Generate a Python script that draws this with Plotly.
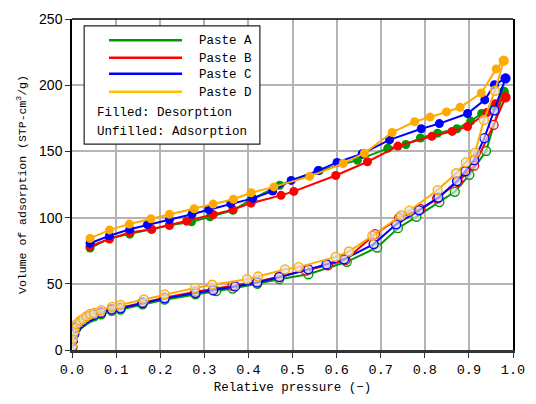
import plotly.graph_objects as go

# ---- Isotherm data: relative pressure (-) vs. adsorbed volume (STP-cm3/g) ----
pastes = ["Paste A", "Paste B", "Paste C", "Paste D"]
colors = ["#009a00", "#ff0000", "#0000ff", "#ffaa00"]
legend_colors = ["#009a00", "#ff0000", "#0000ff", "#ffc000"]

# Adsorption branches (unfilled markers)
ads_a_x = [0.0005, 0.002, 0.005, 0.01, 0.018, 0.025, 0.033, 0.041, 0.05, 0.066, 0.09, 0.11,
           0.16, 0.21, 0.28, 0.327, 0.364, 0.42, 0.47, 0.536, 0.623, 0.692, 0.739, 0.781,
           0.833, 0.868, 0.901, 0.939, 0.979]
ads_a_y = [2, 7, 12, 16.5, 19.5, 21, 23, 24.5, 25.5, 27, 29.5, 30.5,
           34.5, 38, 42, 44.5, 46.4, 50, 53.5, 57.2, 66.6, 77.4, 92, 100.6,
           111.7, 119.5, 132.3, 150.3, 195.1]

ads_b_x = [0.0005, 0.002, 0.005, 0.01, 0.018, 0.025, 0.033, 0.041, 0.05, 0.066, 0.09, 0.11,
           0.16, 0.21, 0.28, 0.32, 0.364, 0.42, 0.47, 0.53, 0.58, 0.62, 0.687, 0.742,
           0.79, 0.828, 0.875, 0.912, 0.956, 0.983]
ads_b_y = [2.5, 7.5, 13, 18, 21, 22.5, 24.5, 26, 27, 28.5, 31, 32,
           36, 39.5, 44, 46, 48.5, 51.5, 55.5, 60, 64, 68, 87.5, 99.8,
           106.5, 114.6, 126.9, 139.2, 170, 190.9]

ads_c_x = [0.0005, 0.002, 0.005, 0.01, 0.018, 0.025, 0.033, 0.041, 0.05, 0.066, 0.09, 0.11,
           0.16, 0.21, 0.28, 0.32, 0.37, 0.42, 0.47, 0.536, 0.577, 0.617, 0.684, 0.735,
           0.787, 0.831, 0.873, 0.892, 0.912, 0.935, 0.958, 0.983]
ads_c_y = [2, 7, 12, 17, 20, 22, 24, 25.5, 26.5, 28, 30.5, 31.5,
           35.5, 39, 43, 45, 48, 51, 55, 60.9, 64.6, 68.5, 80, 94.9,
           105.5, 115.1, 127.6, 135, 143.4, 160, 181, 205.2]

ads_d_x = [0.0005, 0.002, 0.005, 0.01, 0.018, 0.025, 0.033, 0.041, 0.05, 0.066, 0.091, 0.11,
           0.163, 0.21, 0.279, 0.318, 0.397, 0.422, 0.483, 0.514, 0.598, 0.628, 0.681,
           0.746, 0.765, 0.829, 0.871, 0.893, 0.914, 0.934, 0.959, 0.979]
ads_d_y = [3, 8.5, 14, 19.5, 22, 23.5, 25.5, 27.2, 28, 30.1, 32.6, 34.1,
           38.3, 42, 46.9, 49.3, 53.5, 55.5, 60.9, 62.6, 70.3, 74.4, 86.3,
           101.6, 105.2, 120.8, 133.5, 141.7, 149, 173.7, 195.8, 218.5]

# Desorption branches (filled markers), from saturation downwards
des_a_x = [0.979, 0.958, 0.929, 0.904, 0.873, 0.829, 0.790, 0.757, 0.716, 0.647, 0.561,
           0.471, 0.405, 0.365, 0.313, 0.271, 0.221, 0.180, 0.131, 0.085, 0.041]
des_a_y = [195.1, 184.3, 178.6, 172.9, 167.1, 163.8, 160.1, 155.2, 152.3, 143.4, 135.5,
           124.4, 113.4, 105.5, 100.6, 96.9, 94.2, 91.2, 87.5, 84.3, 77.0]

des_b_x = [0.983, 0.960, 0.941, 0.897, 0.862, 0.816, 0.739, 0.670, 0.598, 0.503, 0.474,
           0.406, 0.365, 0.320, 0.260, 0.221, 0.181, 0.131, 0.085, 0.041]
des_b_y = [190.9, 186.0, 179.3, 168.8, 165.1, 161.4, 154.0, 142.2, 131.8, 119.8, 116.8,
           110.9, 106.0, 102.3, 97.3, 94.2, 91.2, 88.8, 83.8, 78.4]

des_c_x = [0.983, 0.958, 0.936, 0.897, 0.833, 0.792, 0.720, 0.658, 0.601, 0.558, 0.497,
           0.455, 0.410, 0.360, 0.310, 0.272, 0.221, 0.171, 0.131, 0.085, 0.041]
des_c_y = [205.2, 200.3, 188.9, 178.6, 171.0, 167.1, 158.7, 148.3, 141.7, 135.5, 128.1,
           120.0, 114.5, 110.4, 106.0, 102.5, 98.4, 94.7, 91.2, 86.3, 80.6]

des_d_x = [0.979, 0.962, 0.928, 0.880, 0.849, 0.812, 0.777, 0.726, 0.663, 0.615, 0.539,
           0.458, 0.406, 0.366, 0.320, 0.277, 0.221, 0.179, 0.130, 0.085, 0.041]
des_d_y = [218.5, 212.3, 194.1, 183.3, 179.8, 175.9, 172.4, 164.3, 148.6, 140.9, 131.1,
           123.2, 118.8, 113.9, 110.2, 106.7, 102.5, 99.1, 95.1, 90.7, 84.3]

ads = [(ads_a_x, ads_a_y), (ads_b_x, ads_b_y), (ads_c_x, ads_c_y), (ads_d_x, ads_d_y)]
des = [(des_a_x, des_a_y), (des_b_x, des_b_y), (des_c_x, des_c_y), (des_d_x, des_d_y)]

legend_notes = ["Filled: Desorption", "Unfilled: Adsorption"]

x_ticks = [0.0, 0.1, 0.2, 0.3, 0.4, 0.5, 0.6, 0.7, 0.8, 0.9, 1.0]
y_ticks = [0, 50, 100, 150, 200, 250]

MONO = "Liberation Mono, DejaVu Sans Mono, monospace"

fig = go.Figure()

for name, col, (ax, ay), (dx, dy) in zip(pastes, colors, ads, des):
    fig.add_trace(go.Scatter(
        x=ax, y=ay, mode="lines+markers", name=name + " adsorption",
        line=dict(color=col, width=2),
        marker=dict(symbol="circle", size=9, color="rgba(225,225,225,0.65)",
                    line=dict(color=col, width=1.3)),
        showlegend=False))
    fig.add_trace(go.Scatter(
        x=dx, y=dy, mode="lines+markers", name=name + " desorption",
        line=dict(color=col, width=2),
        marker=dict(symbol="circle", size=9, color=col, line=dict(width=0)),
        showlegend=False))

# ---- legend box drawn in paper coordinates ----
L, R, T, B = 72, 525, 15, 353.5  # plot area in pixels


def px(xp):
    return (xp - L) / (R - L)


def py(yp):
    return (B - yp) / (B - T)


shapes = [
    dict(type="rect", xref="paper", yref="paper",
         x0=px(84.5), x1=px(265), y0=py(143), y1=py(22),
         line=dict(color="#222", width=1.2), fillcolor="white", layer="above"),
    # top border of the frame
    dict(type="line", xref="paper", yref="paper", x0=0, x1=1, y0=1, y1=1,
         line=dict(color="black", width=1.5)),
]
annotations = []
row_y = [36.7, 54.7, 71.0, 89.3]
for name, col, yy in zip(pastes, legend_colors, row_y):
    shapes.append(dict(type="line", xref="paper", yref="paper",
                       x0=px(110), x1=px(185), y0=py(yy), y1=py(yy),
                       line=dict(color=col, width=2.5), layer="above"))
    annotations.append(dict(xref="paper", yref="paper", x=px(200), y=py(yy + 1),
                            text=name, showarrow=False, xanchor="left", yanchor="middle",
                            font=dict(family=MONO, size=12.5, color="black")))
for txt, yy in zip(legend_notes, [111.5, 130.5]):
    annotations.append(dict(xref="paper", yref="paper", x=px(95.5), y=py(yy),
                            text=txt, showarrow=False, xanchor="left", yanchor="middle",
                            font=dict(family=MONO, size=12.5, color="black")))

fig.update_layout(
    width=536, height=404,
    margin=dict(l=L, r=536 - R, t=T, b=404 - B),
    paper_bgcolor="white", plot_bgcolor="white",
    shapes=shapes, annotations=annotations,
    showlegend=False,
    xaxis=dict(
        range=[0, 1], tickvals=x_ticks, ticktext=[f"{v:.1f}" for v in x_ticks],
        showgrid=True, gridcolor="#b4b4b4", gridwidth=1.5,
        showline=True, linecolor="#333", linewidth=2.5, mirror=False,
        ticks="outside", ticklen=5, tickcolor="#333", tickwidth=1,
        zeroline=False,
        tickfont=dict(family=MONO, size=13.5, color="black"),
        title=dict(text="Relative pressure (−)", standoff=6,
                   font=dict(family=MONO, size=12.5, color="black")),
    ),
    yaxis=dict(
        range=[0, 250], tickvals=y_ticks,
        showgrid=True, gridcolor="#b4b4b4", gridwidth=1.5,
        showline=True, linecolor="black", linewidth=1.5, mirror=True,
        ticks="outside", ticklen=5, tickcolor="#333", tickwidth=1,
        zeroline=False,
        tickfont=dict(family="Liberation Sans, Arial, sans-serif", size=14, color="black"),
        title=dict(text="Volume of adsorption (STP-cm<sup>3</sup>/g)", standoff=10,
                   font=dict(family=MONO, size=11.5, color="black")),
    ),
)

fig.write_html("out.html")
